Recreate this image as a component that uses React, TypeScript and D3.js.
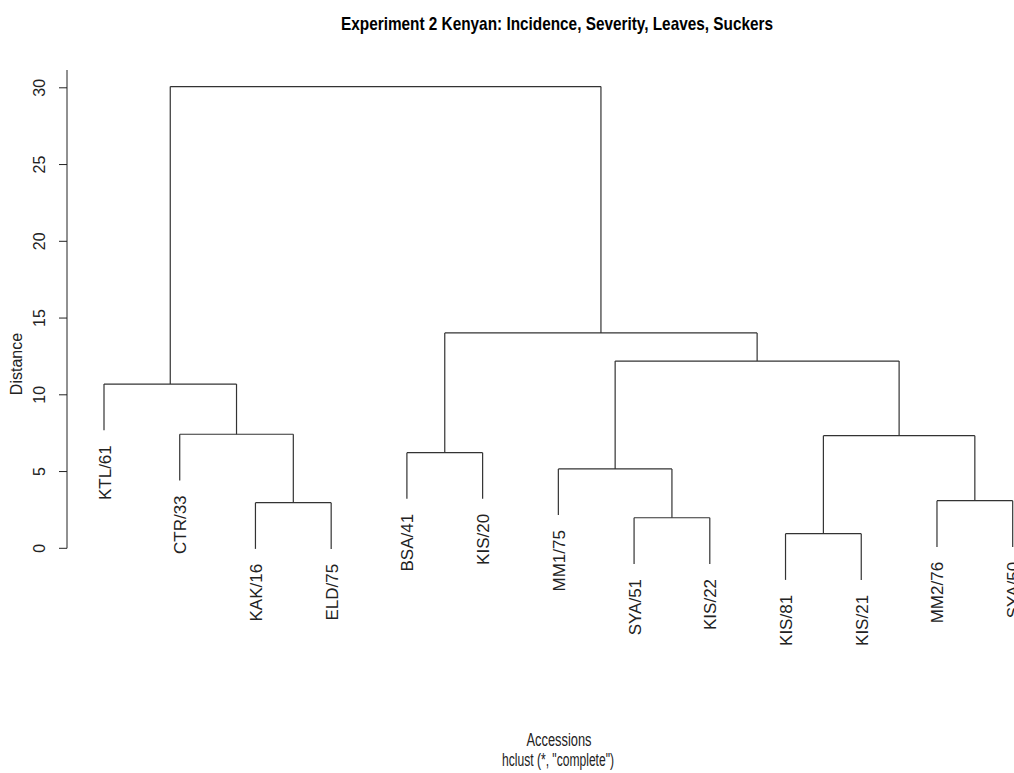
import React from "react";
import * as d3 from "d3";

// Accessions in dendrogram (leaf) order
const leafLabels: string[] = [
  "KTL/61", "CTR/33", "KAK/16", "ELD/75", "BSA/41", "KIS/20", "MM1/75",
  "SYA/51", "KIS/22", "KIS/81", "KIS/21", "MM2/76", "SYA/50",
];

// hclust-style merge table: negative = leaf (1-based), positive = earlier merge step
const mergeLeft: number[] = [-10, -8, -3, -12, -7, -5, 1, -2, -1, 5, 6, 9];
const mergeRight: number[] = [-11, -9, -4, -13, 2, -6, 4, 3, 8, 7, 10, 11];
const mergeHeight: number[] = [0.95, 1.99, 2.97, 3.1, 5.17, 6.23, 7.34, 7.43, 10.7, 12.2, 14.03, 30.08];

const yTicks: number[] = [0, 5, 10, 15, 20, 25, 30];

const W = 1014;
const H = 773;

export default function App() {
  const x = d3.scaleLinear().domain([1, leafLabels.length]).range([104, 1012.7]);
  const y = d3.scaleLinear().domain([0, 30]).range([548.3, 87.8]);
  const hang = 0.1 * d3.max(mergeHeight)!;

  // x-position of each merge node (mean of its children's positions)
  const nodeX: number[] = [];
  const childX = (c: number) => (c < 0 ? x(-c) : nodeX[c - 1]);
  mergeLeft.forEach((l, i) => {
    nodeX.push((childX(l) + childX(mergeRight[i])) / 2);
  });

  const segs: { x1: number; y1: number; x2: number; y2: number }[] = [];
  const leaves: { label: string; lx: number; bottom: number }[] = [];
  mergeLeft.forEach((l, i) => {
    const h = mergeHeight[i];
    const r = mergeRight[i];
    const xl = childX(l);
    const xr = childX(r);
    segs.push({ x1: xl, y1: y(h), x2: xr, y2: y(h) });
    [l, r].forEach((c, k) => {
      const cx = k === 0 ? xl : xr;
      const cy = c < 0 ? y(h - hang) : y(mergeHeight[c - 1]);
      segs.push({ x1: cx, y1: y(h), x2: cx, y2: cy });
      if (c < 0) leaves.push({ label: leafLabels[-c - 1], lx: cx, bottom: cy });
    });
  });

  const sans = "'Liberation Sans', Arial, Helvetica, sans-serif";
  const narrow = "'Liberation Sans Narrow', 'Arial Narrow', 'Liberation Sans', sans-serif";

  return (
    <svg
      width={W}
      height={H}
      style={{ position: "absolute", left: 0, top: 0, background: "#fff" }}
    >
      <rect x={0} y={0} width={W} height={H} fill="#fff" />
      <text
        x={557}
        y={30}
        textAnchor="middle"
        fontFamily={narrow}
        fontWeight="bold"
        fontSize={18.5}
        textLength={432}
        lengthAdjust="spacingAndGlyphs"
        fill="#000"
      >
        Experiment 2 Kenyan: Incidence, Severity, Leaves, Suckers
      </text>

      {/* y axis */}
      <g stroke="#222" strokeWidth={1}>
        <line x1={67} x2={67} y1={70} y2={y(0)} />
        {yTicks.map((t) => (
          <line key={t} x1={59} x2={67} y1={y(t)} y2={y(t)} />
        ))}
      </g>
      {yTicks.map((t) => (
        <text
          key={t}
          transform={`translate(45,${y(t)}) rotate(-90)`}
          textAnchor="middle"
          fontFamily={sans}
          fontSize={16}
          fill="#222"
        >
          {t}
        </text>
      ))}
      <text
        transform={`translate(22,364) rotate(-90)`}
        textAnchor="middle"
        fontFamily={sans}
        fontSize={16}
        fill="#222"
      >
        Distance
      </text>

      {/* dendrogram */}
      <g stroke="#333" strokeWidth={1.2} fill="none">
        {segs.map((s, i) => (
          <line key={i} x1={s.x1} y1={s.y1} x2={s.x2} y2={s.y2} />
        ))}
      </g>
      {leaves.map((lf) => (
        <text
          key={lf.label}
          transform={`translate(${lf.lx + 6.5},${lf.bottom + 15}) rotate(-90)`}
          textAnchor="end"
          fontFamily={sans}
          fontSize={17}
          fill="#222"
        >
          {lf.label}
        </text>
      ))}

      <text
        x={559}
        y={746}
        textAnchor="middle"
        fontFamily={narrow}
        fontSize={17.5}
        textLength={65}
        lengthAdjust="spacingAndGlyphs"
        fill="#222"
      >
        Accessions
      </text>
      <text
        x={558}
        y={766}
        textAnchor="middle"
        fontFamily={narrow}
        fontSize={17.5}
        textLength={112}
        lengthAdjust="spacingAndGlyphs"
        fill="#222"
      >
        hclust (*, "complete")
      </text>
    </svg>
  );
}
